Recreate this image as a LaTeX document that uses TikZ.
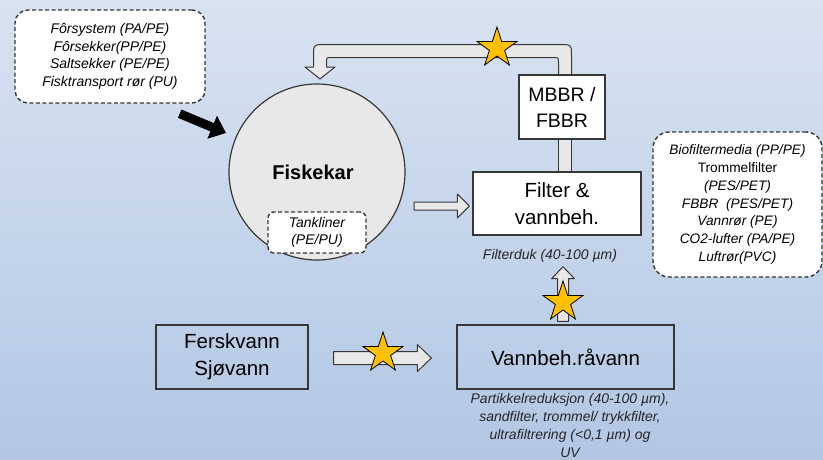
\documentclass[tikz,border=0pt]{standalone}
\usepackage{fontspec}
\setmainfont{Liberation Sans}
\usetikzlibrary{shapes.geometric,arrows.meta,calc}
\definecolor{bgtop}{RGB}{216,227,241}
\definecolor{bgbot}{RGB}{178,199,228}
\definecolor{edge}{RGB}{55,55,55}
\definecolor{arrfill}{RGB}{232,232,232}
\definecolor{stargold}{RGB}{255,192,0}

\newcommand\blockarrow[5]{% start, end, shaft half, head half, head length
  \path let \p1=(#1), \p2=(#2), \n1={atan2(\y2-\y1,\x2-\x1)}, \n2={veclen(\x2-\x1,\y2-\y1)} in
    \pgfextra{\xdef\baang{\n1}\xdef\balen{\n2}\xdef\bax{\x1}\xdef\bay{\y1}};
  \draw[blockarr, shift={(\bax,\bay)}, rotate=\baang]
    (0pt,-#3pt) -- ({\balen-#5pt},-#3pt) -- ({\balen-#5pt},-#4pt) -- (\balen,0pt)
    -- ({\balen-#5pt},#4pt) -- ({\balen-#5pt},#3pt) -- (0pt,#3pt) -- cycle;
}

\tikzset{
  blockarr/.style={draw=edge, fill=arrfill, line width=1pt, line join=round},
  dashbox/.style={draw=edge, fill=white, dashed, dash pattern=on 4pt off 2.5pt, line width=1.4pt,
    rounded corners=13pt, align=center, inner sep=0pt,
    font=\itshape\fontsize{14}{17.5}\selectfont},
  procbox/.style={draw=edge, line width=1.3pt, align=center, inner sep=0pt,
    font=\fontsize{20.5}{27}\selectfont},
  note/.style={align=center, inner sep=0pt, font=\itshape\fontsize{14}{18}\selectfont, text=black!85},
  goldstar/.style={star, star points=5, star point ratio=2.618, minimum size=42pt, inner sep=0pt,
    draw=black, line width=0.8pt, fill=stargold}
}

\begin{document}
\begin{tikzpicture}[x=1pt,y=-1pt]
\shade[top color=bgtop, bottom color=bgbot] (0,0) rectangle (823,459);
\useasboundingbox (0,0) rectangle (823,459);

% top return arrow (drawn under MBBR box)
\draw[blockarr]
  (571.5,80) -- (571.5,56.5) .. controls (571.5,44.5) .. (559.5,44.5)
  -- (325.5,44.5) .. controls (313.5,44.5) .. (313.5,56.5)
  -- (313.5,67) -- (305,67) -- (320,79) -- (335,67) -- (326.5,67)
  -- (326.5,62.5) .. controls (326.5,57.5) .. (331.5,57.5)
  -- (553.5,57.5) .. controls (558.5,57.5) .. (558.5,62.5)
  -- (558.5,80) -- cycle;

% pipe between filter and MBBR
\draw[blockarr] (558.5,134) rectangle (571.5,176);

% boxes
\node[dashbox, minimum width=190pt, minimum height=93pt] (inputs) at (110,56.5)
  {Fôrsystem (PA/PE)\\Fôrsekker(PP/PE)\\Saltsekker (PE/PE)\\Fisktransport rør (PU)};

\node[circle, draw=edge, fill=arrfill, line width=1.2pt, minimum size=176pt, inner sep=0pt] (fisk) at (317,172) {};
\node[font=\bfseries\fontsize{20}{24}\selectfont, inner sep=0pt] (fisklbl) at (313,172) {Fiskekar};
\node[dashbox, rounded corners=6pt, minimum width=98pt, minimum height=41pt] (tank) at (317,232.5)
  {Tankliner\\(PE/PU)};

\node[procbox, fill=white, minimum width=168pt, minimum height=63pt] (filter) at (557,203.5)
  {Filter \&\\vannbeh.};
\node[procbox, fill=white, minimum width=86pt, minimum height=64pt, font=\fontsize{19.5}{26}\selectfont] (mbbr) at (562,107)
  {MBBR /\\FBBR};
\node[note] (filterduk) at (550,256) {Filterduk (40-100 µm)};

\node[dashbox, rounded corners=16pt, minimum width=169pt, minimum height=145pt,
  font=\itshape\fontsize{13.7}{17.7}\selectfont] (media) at (737.5,204.5)
  {Biofiltermedia (PP/PE)\\{\upshape Trommelfilter}\\(PES/PET)\\FBBR\ \ (PES/PET)\\Vannrør (PE)\\CO2-lufter (PA/PE)\\Luftrør(PVC)};

\node[procbox, minimum width=152pt, minimum height=64pt] (fersk) at (232,357)
  {Ferskvann\\Sjøvann};
\node[procbox, minimum width=217pt, minimum height=64pt] (raavann) at (565.5,357)
  {Vannbeh.råvann};
\node[note, anchor=north] (caption) at (570,393)
  {Partikkelreduksjon (40-100 µm),\\sandfilter, trommel/ trykkfilter,\\ultrafiltrering (<0,1 µm) og\\UV};

% connectors
\coordinate (a1s) at ($(fisk.center)+(97,34)$);
\coordinate (a1e) at ($(filter.west)+(-3,2.5)$);
\blockarrow{a1s}{a1e}{4}{12}{12}

\coordinate (a2s) at ($(raavann.north)+(-2.5,-3)$);
\coordinate (a2e) at ($(filterduk.south)+(13,4)$);
\blockarrow{a2s}{a2e}{5.5}{11.5}{12}

\coordinate (a3s) at ($(fersk.east)+(25,1)$);
\coordinate (a3e) at ($(raavann.west)+(-25,1)$);
\blockarrow{a3s}{a3e}{6.5}{13.5}{14}

\coordinate (bs) at ($(inputs.south east)+(-26,10)$);
\coordinate (be) at ($(fisk.center)+(-91,-39)$);
\draw[line width=9pt, -{Triangle[length=15pt,width=24pt]}] (bs) -- (be);

% stars
\node[goldstar] (s1) at (497,48) {};
\node[goldstar] (s2) at (563,302) {};
\node[goldstar] (s3) at (383,353) {};
\end{tikzpicture}
\end{document}
